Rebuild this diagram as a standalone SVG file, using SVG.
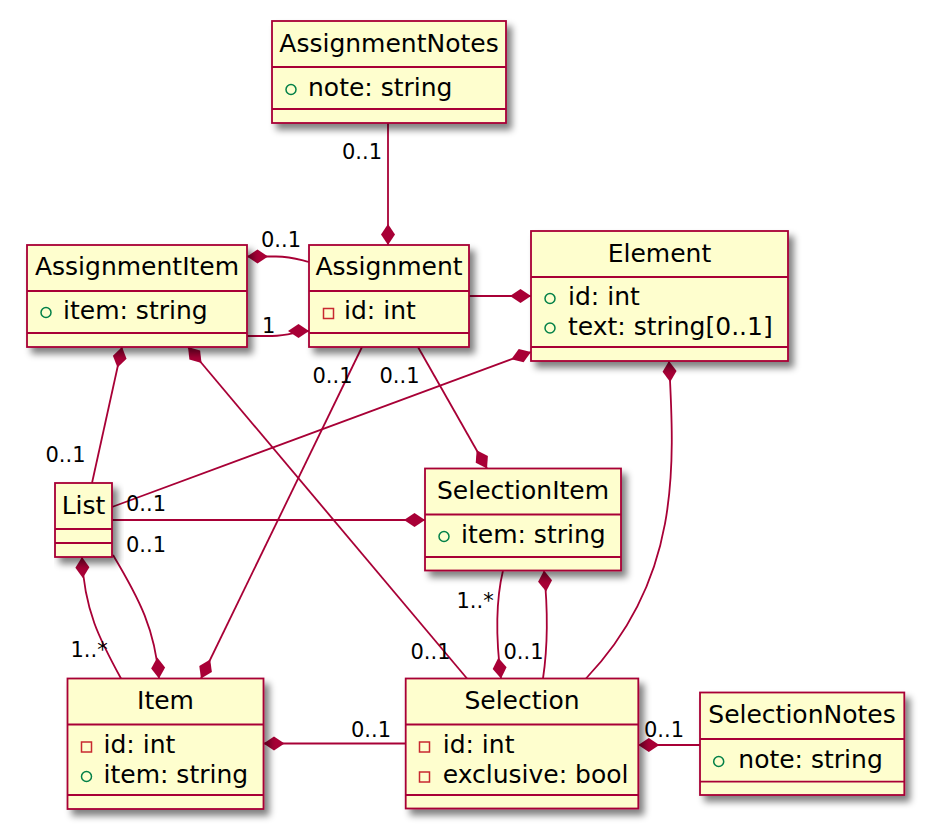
<svg xmlns="http://www.w3.org/2000/svg" width="931" height="837" viewBox="0 0 931 837">
<style>
.box{fill:#FEFECE;stroke:#A80036;stroke-width:1.8}
.sep{stroke:#A80036;stroke-width:1.8}
.t{font-family:"DejaVu Sans",sans-serif;font-size:25px;fill:#000}
.title{text-anchor:middle}
.lbl{font-family:"DejaVu Sans",sans-serif;font-size:21px;fill:#000}
.pub{fill:none;stroke:#038048;stroke-width:1.5}
.priv{fill:none;stroke:#C82930;stroke-width:1.5}
.c{fill:none;stroke:#A80036;stroke-width:1.8;marker-start:url(#dia)}
</style>
<defs>
<filter id="sh" x="-10%" y="-10%" width="130%" height="135%">
<feGaussianBlur in="SourceAlpha" stdDeviation="3.5" result="b"/>
<feOffset in="b" dx="5" dy="6" result="o"/>
<feComponentTransfer in="o" result="s"><feFuncA type="linear" slope="0.5"/></feComponentTransfer>
<feMerge><feMergeNode in="s"/><feMergeNode in="SourceGraphic"/></feMerge>
</filter>
<marker id="dia" viewBox="0 0 24 16" refX="1" refY="8" markerWidth="24" markerHeight="16" orient="auto" markerUnits="userSpaceOnUse">
<path d="M1,8 L11.5,1 L22,8 L11.5,15 Z" fill="#A80036"/>
</marker>
</defs>
<rect width="931" height="837" fill="#fff"/>

<g id="connectors">
<path class="c" d="M388,245 L388,123"/>
<text class="lbl" x="342" y="159">0..1</text>
<path class="c" d="M247,256.5 L276,256.5 C291,256.5 297,259 309,262"/>
<text class="lbl" x="261" y="247">0..1</text>
<path class="c" d="M309,331 C296,331 290,336 272,336 L247,336"/>
<text class="lbl" x="262" y="332.5">1</text>
<path class="c" d="M531,296 L469,296"/>
<path class="c" d="M531,352 L112,507"/>
<text class="lbl" x="126" y="510.5">0..1</text>
<path class="c" d="M669,361 C675,470 680,580 586,678.5"/>
<path class="c" d="M487,468.5 L418,347"/>
<text class="lbl" x="379.5" y="382.5">0..1</text>
<path class="c" d="M201,678.5 L362,347"/>
<text class="lbl" x="312.5" y="382.5">0..1</text>
<path class="c" d="M122,347 L92,483"/>
<text class="lbl" x="45.5" y="461.5">0..1</text>
<path class="c" d="M188,347 L467,678.5"/>
<text class="lbl" x="410.5" y="658.5">0..1</text>
<path class="c" d="M425,520 L112,520"/>
<text class="lbl" x="126" y="552.3">0..1</text>
<path class="c" d="M82,557 C84,610 100,640 121,678.5"/>
<text class="lbl" x="70.5" y="657.3">1..*</text>
<path class="c" d="M159,678.5 C155,630 140,600 113,555"/>
<path class="c" d="M501,678.5 C496,640 496,600 503,570.5"/>
<text class="lbl" x="456.5" y="607.5">1..*</text>
<text class="lbl" x="503.5" y="658.5">0..1</text>
<path class="c" d="M544,570.5 C548,610 548,645 543,678.5"/>
<path class="c" d="M263.5,743.5 L405.7,743.5"/>
<text class="lbl" x="351" y="736.5">0..1</text>
<path class="c" d="M638.3,745 L700,745"/>
<text class="lbl" x="644" y="737.3">0..1</text>
</g>

<g id="AssignmentNotes">
<rect class="box" filter="url(#sh)" x="272" y="21" width="234" height="102"/>
<line class="sep" x1="272" y1="67" x2="506" y2="67"/>
<line class="sep" x1="272" y1="109" x2="506" y2="109"/>
<text class="t title" x="389" y="52">AssignmentNotes</text>
<circle class="pub" cx="291" cy="89.5" r="5"/>
<text class="t" x="308" y="96">note: string</text>
</g>

<g id="AssignmentItem">
<rect class="box" filter="url(#sh)" x="27" y="245" width="220" height="102"/>
<line class="sep" x1="27" y1="291" x2="247" y2="291"/>
<line class="sep" x1="27" y1="333" x2="247" y2="333"/>
<text class="t title" x="137" y="275">AssignmentItem</text>
<circle class="pub" cx="46" cy="312.5" r="5"/>
<text class="t" x="63" y="319">item: string</text>
</g>

<g id="Assignment">
<rect class="box" filter="url(#sh)" x="309" y="245" width="160" height="102"/>
<line class="sep" x1="309" y1="291" x2="469" y2="291"/>
<line class="sep" x1="309" y1="333" x2="469" y2="333"/>
<text class="t title" x="389" y="275">Assignment</text>
<rect class="priv" x="323.5" y="308.5" width="10" height="10"/>
<text class="t" x="344" y="319">id: int</text>
</g>

<g id="Element">
<rect class="box" filter="url(#sh)" x="531" y="231" width="257" height="130"/>
<line class="sep" x1="531" y1="277" x2="788" y2="277"/>
<line class="sep" x1="531" y1="347" x2="788" y2="347"/>
<text class="t title" x="659.5" y="262">Element</text>
<circle class="pub" cx="550" cy="298.5" r="5"/>
<text class="t" x="568" y="305">id: int</text>
<circle class="pub" cx="550" cy="328" r="5"/>
<text class="t" x="568" y="334.5">text: string[0..1]</text>
</g>

<g id="List">
<rect class="box" filter="url(#sh)" x="55" y="483" width="57" height="74"/>
<line class="sep" x1="55" y1="529" x2="112" y2="529"/>
<line class="sep" x1="55" y1="543" x2="112" y2="543"/>
<text class="t title" x="83.5" y="513.5">List</text>
</g>

<g id="SelectionItem">
<rect class="box" filter="url(#sh)" x="425" y="468.5" width="196" height="102"/>
<line class="sep" x1="425" y1="514.5" x2="621" y2="514.5"/>
<line class="sep" x1="425" y1="557" x2="621" y2="557"/>
<text class="t title" x="523" y="498.5">SelectionItem</text>
<circle class="pub" cx="444" cy="536.5" r="5"/>
<text class="t" x="461" y="543.3">item: string</text>
</g>

<g id="Item">
<rect class="box" filter="url(#sh)" x="67.5" y="678.5" width="196" height="130.5"/>
<line class="sep" x1="67.5" y1="724.5" x2="263.5" y2="724.5"/>
<line class="sep" x1="67.5" y1="795" x2="263.5" y2="795"/>
<text class="t title" x="165.5" y="708.5">Item</text>
<rect class="priv" x="81.5" y="742" width="10" height="10"/>
<text class="t" x="103.5" y="753.3">id: int</text>
<circle class="pub" cx="86.5" cy="776.5" r="5"/>
<text class="t" x="103.5" y="783">item: string</text>
</g>

<g id="Selection">
<rect class="box" filter="url(#sh)" x="405.7" y="678.5" width="232.6" height="130"/>
<line class="sep" x1="405.7" y1="724.5" x2="638.3" y2="724.5"/>
<line class="sep" x1="405.7" y1="795" x2="638.3" y2="795"/>
<text class="t title" x="522" y="708.5">Selection</text>
<rect class="priv" x="419.5" y="742" width="10" height="10"/>
<text class="t" x="442.7" y="753.3">id: int</text>
<rect class="priv" x="419.5" y="772" width="10" height="10"/>
<text class="t" x="442.7" y="782.7">exclusive: bool</text>
</g>

<g id="SelectionNotes">
<rect class="box" filter="url(#sh)" x="700" y="692.5" width="204.3" height="102.5"/>
<line class="sep" x1="700" y1="739" x2="904.3" y2="739"/>
<line class="sep" x1="700" y1="781.7" x2="904.3" y2="781.7"/>
<text class="t title" x="802" y="723.3">SelectionNotes</text>
<circle class="pub" cx="718.7" cy="761.5" r="5"/>
<text class="t" x="738.3" y="768.3">note: string</text>
</g>
</svg>
